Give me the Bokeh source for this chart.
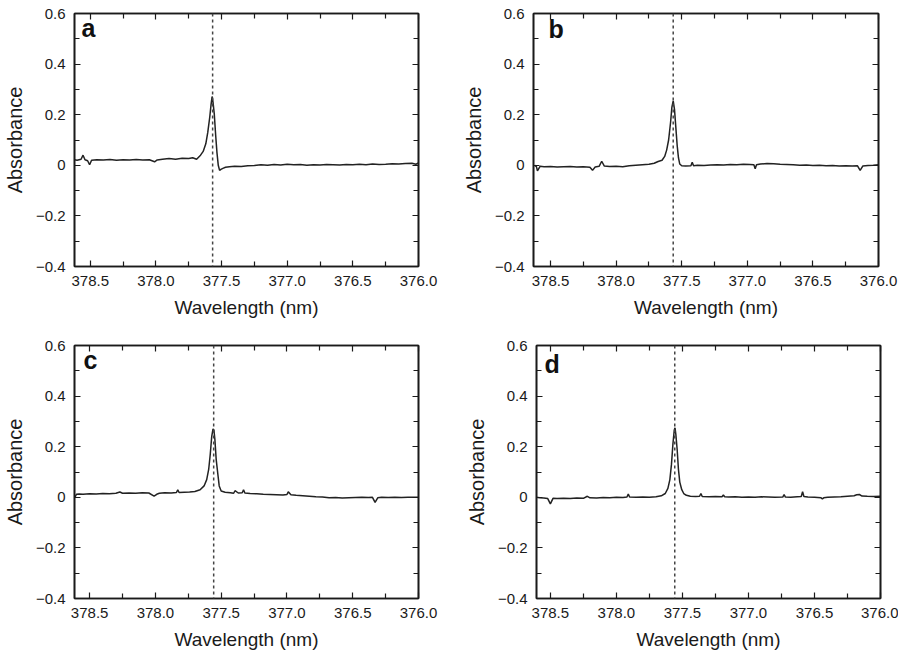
from bokeh.plotting import figure
from bokeh.models import (Range1d, FixedTicker, LinearAxis, Span, Label, PrintfTickFormatter,
                          CustomJSTickFormatter)
from bokeh.layouts import column, row
from bokeh.embed import file_html
from bokeh.resources import INLINE

# ---------------- data ----------------
panel_letters = ["a", "b", "c", "d"]
line_positions = [377.568, 377.565, 377.557, 377.558]

wl_a = [378.62, 378.60, 378.57, 378.555, 378.54, 378.52, 378.505, 378.49, 378.45, 378.40,
        378.35, 378.30, 378.25, 378.20, 378.15, 378.10, 378.05, 378.01, 377.99, 377.95,
        377.90, 377.85, 377.80, 377.75, 377.72, 377.69, 377.66, 377.64, 377.62, 377.605,
        377.59, 377.58, 377.572, 377.565, 377.555, 377.545, 377.535, 377.525, 377.515, 377.505,
        377.49, 377.47, 377.44, 377.40, 377.35, 377.30, 377.25, 377.20, 377.15, 377.10,
        377.05, 377.00, 376.95, 376.90, 376.85, 376.80, 376.75, 376.70, 376.65, 376.60,
        376.55, 376.50, 376.45, 376.40, 376.35, 376.30, 376.25, 376.20, 376.15, 376.10,
        376.05, 376.02, 376.00]
abs_a = [0.022, 0.020, 0.024, 0.040, 0.022, 0.018, 0.002, 0.020, 0.022, 0.021,
         0.023, 0.020, 0.022, 0.021, 0.023, 0.021, 0.022, 0.014, 0.021, 0.024,
         0.027, 0.024, 0.028, 0.027, 0.030, 0.024, 0.040, 0.055, 0.085, 0.130,
         0.190, 0.240, 0.272, 0.250, 0.200, 0.120, 0.050, 0.000, -0.020, -0.016,
         -0.012, -0.008, -0.006, -0.004, -0.005, -0.002, -0.001, 0.002, 0.000, 0.003,
         0.001, 0.004, 0.002, 0.003, 0.000, 0.002, 0.001, 0.003, 0.002, 0.001,
         0.003, 0.002, 0.004, 0.002, 0.005, 0.003, 0.004, 0.006, 0.005, 0.007,
         0.008, 0.004, 0.009]

wl_b = [378.62, 378.61, 378.60, 378.58, 378.55, 378.50, 378.45, 378.40, 378.35, 378.30,
        378.25, 378.20, 378.18, 378.16, 378.13, 378.11, 378.09, 378.05, 378.00, 377.95,
        377.90, 377.85, 377.80, 377.75, 377.71, 377.68, 377.65, 377.63, 377.615, 377.60,
        377.585, 377.575, 377.565, 377.555, 377.545, 377.535, 377.525, 377.515, 377.50, 377.47,
        377.43, 377.42, 377.41, 377.38, 377.33, 377.28, 377.23, 377.18, 377.13, 377.08,
        377.03, 376.98, 376.95, 376.94, 376.93, 376.90, 376.85, 376.80, 376.75, 376.70,
        376.65, 376.60, 376.55, 376.50, 376.45, 376.40, 376.35, 376.30, 376.25, 376.20,
        376.16, 376.14, 376.12, 376.08, 376.04, 376.00]
abs_b = [-0.005, 0.000, -0.022, -0.004, -0.006, -0.005, -0.007, -0.006, -0.005, -0.007,
         -0.006, -0.008, -0.020, -0.007, -0.004, 0.016, -0.003, -0.005, -0.004, -0.006,
         -0.002, 0.000, 0.002, 0.004, 0.008, 0.015, 0.020, 0.035, 0.060, 0.100,
         0.170, 0.230, 0.255, 0.220, 0.150, 0.080, 0.030, 0.005, -0.002, -0.003,
         -0.002, 0.012, -0.002, 0.000, -0.001, 0.001, 0.002, 0.001, 0.003, 0.002,
         0.004, 0.003, 0.002, -0.014, 0.002, 0.005, 0.007, 0.006, 0.004, 0.003,
         0.002, 0.000, 0.001, -0.001, 0.000, -0.002, -0.001, -0.003, -0.002, -0.003,
         -0.002, -0.020, -0.003, -0.001, 0.000, 0.002]

wl_c = [378.62, 378.61, 378.60, 378.58, 378.55, 378.50, 378.45, 378.40, 378.35, 378.30,
        378.27, 378.25, 378.20, 378.15, 378.10, 378.05, 378.01, 377.99, 377.97, 377.93,
        377.88, 377.84, 377.83, 377.82, 377.78, 377.74, 377.70, 377.66, 377.63, 377.61,
        377.595, 377.583, 377.572, 377.562, 377.555, 377.548, 377.538, 377.525, 377.515, 377.50,
        377.47, 377.43, 377.405, 377.395, 377.37, 377.34, 377.33, 377.32, 377.28, 377.23,
        377.18, 377.13, 377.08, 377.03, 377.00, 376.99, 376.97, 376.93, 376.88, 376.83,
        376.78, 376.73, 376.68, 376.63, 376.58, 376.53, 376.48, 376.43, 376.38, 376.35,
        376.33, 376.31, 376.28, 376.23, 376.18, 376.13, 376.08, 376.03, 376.00]
abs_c = [0.010, 0.002, 0.012, 0.013, 0.012, 0.014, 0.013, 0.015, 0.014, 0.016,
         0.021, 0.016, 0.017, 0.016, 0.018, 0.017, 0.005, 0.012, 0.016, 0.018,
         0.017, 0.019, 0.030, 0.019, 0.020, 0.021, 0.023, 0.030, 0.045, 0.070,
         0.110, 0.170, 0.240, 0.270, 0.265, 0.230, 0.150, 0.090, 0.045, 0.025,
         0.020, 0.018, 0.016, 0.026, 0.017, 0.018, 0.030, 0.017, 0.015, 0.014,
         0.012, 0.011, 0.010, 0.009, 0.011, 0.022, 0.010, 0.008, 0.006, 0.004,
         0.002, 0.001, -0.002, -0.001, -0.003, -0.002, -0.001, 0.000, -0.001, 0.000,
         -0.020, -0.002, 0.000, -0.001, 0.000, -0.001, 0.000, 0.000, 0.000]

wl_d = [378.61, 378.58, 378.55, 378.52, 378.50, 378.48, 378.45, 378.40, 378.35, 378.30,
        378.25, 378.22, 378.20, 378.15, 378.10, 378.05, 378.00, 377.95, 377.92, 377.91,
        377.90, 377.85, 377.80, 377.75, 377.70, 377.66, 377.63, 377.61, 377.595, 377.583,
        377.572, 377.562, 377.556, 377.55, 377.54, 377.53, 377.52, 377.505, 377.49, 377.47,
        377.44, 377.40, 377.37, 377.36, 377.35, 377.30, 377.25, 377.20, 377.19, 377.18,
        377.15, 377.10, 377.05, 377.00, 376.95, 376.90, 376.85, 376.80, 376.74, 376.73,
        376.72, 376.68, 376.63, 376.60, 376.59, 376.58, 376.55, 376.50, 376.45, 376.44,
        376.43, 376.40, 376.35, 376.30, 376.25, 376.20, 376.18, 376.16, 376.14, 376.10,
        376.05, 376.00]
abs_d = [0.000, -0.002, -0.003, -0.005, -0.026, -0.004, -0.005, -0.004, -0.005, -0.003,
         -0.004, 0.004, -0.002, -0.003, -0.001, -0.002, 0.000, -0.001, 0.001, 0.013,
         0.001, 0.000, 0.001, 0.000, 0.002, 0.006, 0.015, 0.035, 0.070, 0.130,
         0.210, 0.265, 0.275, 0.250, 0.190, 0.110, 0.060, 0.030, 0.015, 0.008,
         0.004, 0.003, 0.004, 0.015, 0.003, 0.002, 0.003, 0.002, 0.009, 0.002,
         0.001, 0.002, 0.000, 0.001, 0.000, 0.002, 0.001, 0.000, 0.001, 0.011,
         0.001, 0.000, 0.002, 0.003, 0.022, 0.003, 0.001, 0.000, -0.002, -0.006,
         -0.002, 0.000, 0.001, 0.002, 0.004, 0.006, 0.010, 0.011, 0.005, 0.004,
         0.003, 0.004]

x_major = [378.5, 378.0, 377.5, 377.0, 376.5, 376.0]
x_minor = [378.25, 377.75, 377.25, 376.75, 376.25]
y_major = [-0.4, -0.2, 0.0, 0.2, 0.4, 0.6]
y_minor = [-0.3, -0.1, 0.1, 0.3, 0.5]
y_labels = {-0.4: "\u22120.4", -0.2: "\u22120.2", 0: "0", 0.2: "0.2", 0.4: "0.4", 0.6: "0.6"}

x_starts = [378.62, 378.63, 378.615, 378.605]

FONT = "Liberation Sans"
INK = "#1a1a1a"


def style_axis(ax, labels=True):
    ax.major_tick_in = 6
    ax.major_tick_out = 0
    ax.minor_tick_in = 5
    ax.minor_tick_out = 0
    ax.axis_line_color = INK
    ax.axis_line_width = 1.6
    ax.major_tick_line_color = INK
    ax.minor_tick_line_color = INK
    ax.major_tick_line_width = 1.2
    ax.minor_tick_line_width = 1.2
    ax.major_label_text_font = FONT
    ax.major_label_text_color = INK
    ax.axis_label_text_font = FONT
    ax.axis_label_text_font_style = "normal"
    ax.axis_label_text_color = INK
    if not labels:
        ax.formatter = CustomJSTickFormatter(code="return '';")
        ax.major_label_standoff = 0


def make_panel(wl, ab, letter, line_at, x_start, borders, letter_dx, letter_dy):
    left, right, top, bottom = borders
    p = figure(width=449, height=326, output_backend="svg", toolbar_location=None,
               x_range=Range1d(x_start, 376.0), y_range=Range1d(-0.4, 0.6),
               min_border_left=left, min_border_right=right,
               min_border_top=top, min_border_bottom=bottom,
               background_fill_color="white", border_fill_color="white")
    p.xgrid.visible = False
    p.ygrid.visible = False
    p.outline_line_color = INK
    p.outline_line_width = 1.6

    xt = FixedTicker(ticks=x_major, minor_ticks=x_minor)
    yt = FixedTicker(ticks=y_major, minor_ticks=y_minor)

    xa = p.xaxis[0]
    xa.ticker = xt
    xa.formatter = PrintfTickFormatter(format="%.1f")
    xa.axis_label = "Wavelength (nm)"
    style_axis(xa)
    xa.major_label_text_font_size = "15px"
    xa.axis_label_text_font_size = "19px"
    xa.major_label_standoff = 9
    xa.axis_label_standoff = 8

    ya = p.yaxis[0]
    ya.ticker = yt
    ya.major_label_overrides = y_labels
    ya.axis_label = "Absorbance"
    style_axis(ya)
    ya.major_label_text_font_size = "15px"
    ya.axis_label_text_font_size = "20px"
    ya.major_label_standoff = 9
    ya.axis_label_standoff = 7

    top_ax = LinearAxis(ticker=xt)
    style_axis(top_ax, labels=False)
    p.add_layout(top_ax, "above")
    right_ax = LinearAxis(ticker=yt)
    style_axis(right_ax, labels=False)
    p.add_layout(right_ax, "right")

    p.add_layout(Span(location=line_at, dimension="height", line_color="#444444",
                      line_width=1.5, line_dash="3 3"))
    p.line(wl, ab, line_color="#222222", line_width=1.5)

    p.add_layout(Label(x=x_start, y=0.6, x_offset=letter_dx, y_offset=letter_dy,
                       text=letter, text_font=FONT, text_font_style="bold",
                       text_font_size="25px", text_color="#111111",
                       text_align="left", text_baseline="top"))
    return p


pa = make_panel(wl_a, abs_a, panel_letters[0], line_positions[0], x_starts[0],
                (72, 31, 12, 60), 7, 0)
pb = make_panel(wl_b, abs_b, panel_letters[1], line_positions[1], x_starts[1],
                (84, 20, 13, 59), 15, -1)
pc = make_panel(wl_c, abs_c, panel_letters[2], line_positions[2], x_starts[2],
                (73, 31, 17, 53), 9, 0)
pd = make_panel(wl_d, abs_d, panel_letters[3], line_positions[3], x_starts[3],
                (87, 18, 19, 53), 8, -4)

layout = column(row(pa, pb), row(pc, pd))
open("out.html", "w").write(file_html(layout, INLINE))
